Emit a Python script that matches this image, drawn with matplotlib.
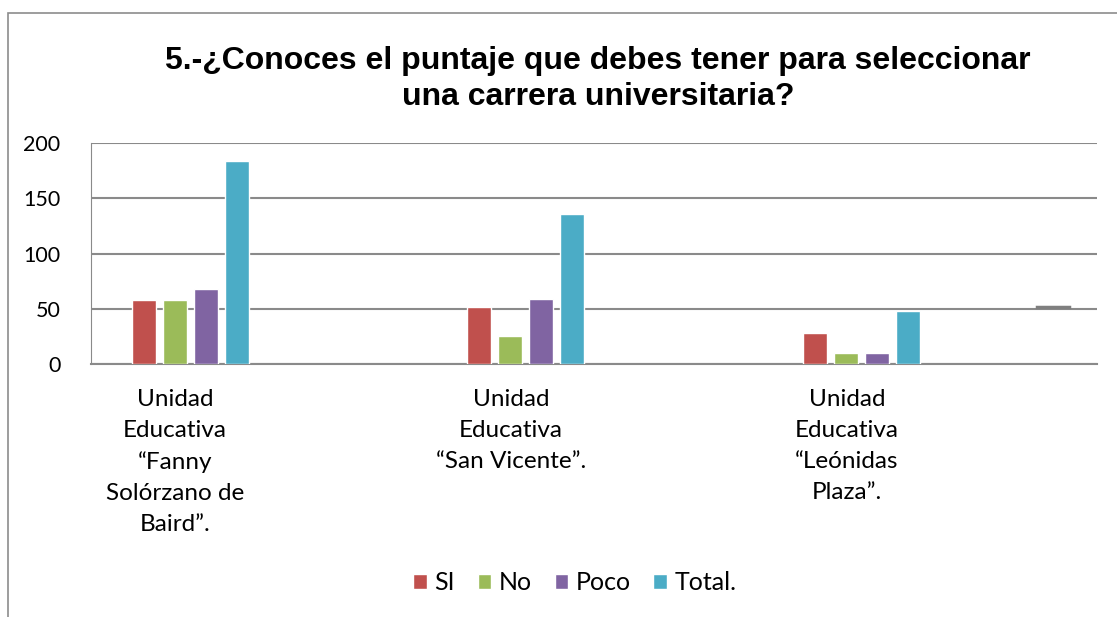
import numpy as np
import matplotlib.pyplot as plt
from matplotlib.patches import Rectangle

# Datos del grafico
categorias = ["Unidad\nEducativa\n\u201cFanny\nSol\u00f3rzano de\nBaird\u201d.",
              "Unidad\nEducativa\n\u201cSan Vicente\u201d.",
              "Unidad\nEducativa\n\u201cLe\u00f3nidas\nPlaza\u201d."]
series = ["SI", "No", "Poco", "Total."]
si = [58, 52, 28]
no = [58, 25, 10]
poco = [68, 59, 10]
total = [184, 136, 48]
colores = ["#C0504D", "#9BBB59", "#8064A2", "#4BACC6"]

plt.rcParams['font.family'] = ['Lato', 'DejaVu Sans']

fig = plt.figure(figsize=(11.17, 6.17), dpi=100)
ax = fig.add_axes([91 / 1117, 1 - 364 / 617, (1097 - 91) / 1117, (364 - 143) / 617])

# marco del grafico
fig.patches.append(Rectangle((8 / 1117, -0.1), 1.2, 1 - 13 / 617 + 0.1,
                             transform=fig.transFigure, fill=False,
                             edgecolor="#8c8c8c", linewidth=1.2))

x = np.arange(len(categorias))
ancho = 0.0714
paso = 0.0923
valores = [si, no, poco, total]
for i, (nombre, vals) in enumerate(zip(series, valores)):
    ax.bar(x + (i - 1.5) * paso, vals, ancho, color=colores[i], label=nombre,
           edgecolor="white", linewidth=1.0, zorder=3)

# pequena marca gris a la derecha
ax.plot([2.521, 2.616], [51.5, 51.5], color="#7f7f7f", linewidth=2.5, zorder=3)

ax.set_ylim(0, 200)
ax.set_xlim(-0.295, 2.70)
ax.set_yticks([0, 50, 100, 150, 200])
ax.yaxis.grid(True, color="#8a8a8a", linewidth=1.5, zorder=0)
ax.set_axisbelow(True)
for s in ["top", "right"]:
    ax.spines[s].set_visible(False)
ax.spines["left"].set_color("#8a8a8a")
ax.spines["bottom"].set_color("#8a8a8a")
ax.spines["bottom"].set_linewidth(1.5)
ax.tick_params(axis="y", length=0, pad=22, labelsize=15.5)
ax.tick_params(axis="x", length=0, pad=18, labelsize=17.5)
ax.set_xticks(x - 0.045)
ax.set_xticklabels(categorias, linespacing=1.58, va="top")

fig.text(598 / 1117, 1 - 79 / 617,
         "5.-\u00bfConoces el puntaje que debes tener para seleccionar\nuna carrera universitaria?",
         ha="center", va="center", fontsize=23, fontweight="bold",
         family=["Liberation Sans", "DejaVu Sans"], linespacing=1.27)

fig.legend(loc="center", bbox_to_anchor=(575 / 1117, 1 - 583 / 617), ncol=4,
           frameon=False, fontsize=18, handlelength=0.55, handleheight=0.55,
           handletextpad=0.3, columnspacing=0.9)

fig.savefig("out.png", dpi=100)
